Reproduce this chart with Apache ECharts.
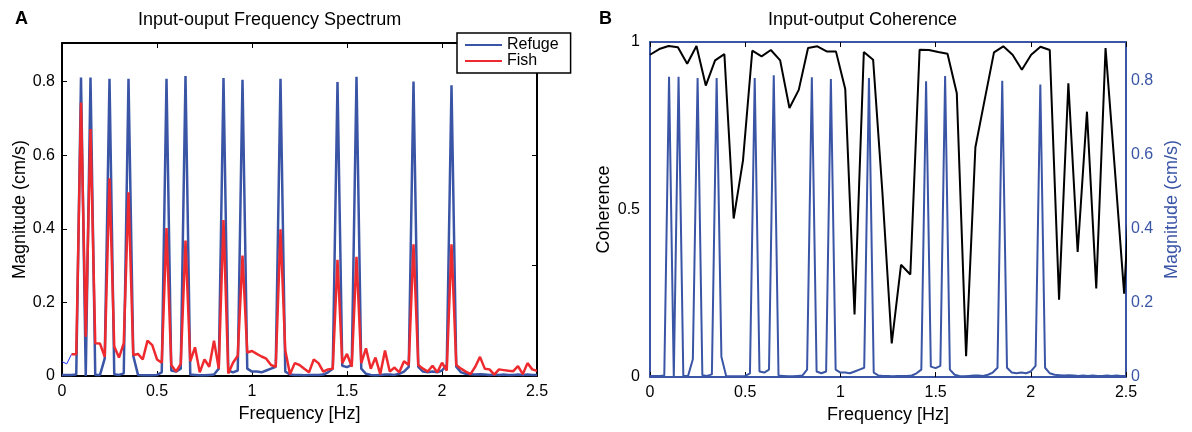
<!DOCTYPE html>
<html>
<head>
<meta charset="utf-8">
<script src="https://cdn.jsdelivr.net/npm/echarts@6/dist/echarts.min.js"></script>
<style>
  html, body { margin: 0; padding: 0; background: #fff; }
  #chart { width: 1192px; height: 432px; }
</style>
</head>
<body>
<div id="chart"></div>
<script>
// spectrum sampled every 0.025 Hz, coherence every 100/2048 Hz
const specStep = 0.025;
const cohStep = 100 / 2048;

const refuge = [
  0.003, 0.003, 0.003, 0.004, 0.811, 0.0, 0.811, 0.003, 0.003, 0.048,
  0.808, 0.005, 0.003, 0.007, 0.808, 0.055, 0.003, 0.002, 0.002, 0.002,
  0.003, 0.01, 0.808, 0.015, 0.012, 0.02, 0.815, 0.004, 0.003, 0.002,
  0.002, 0.003, 0.004, 0.02, 0.81, 0.015, 0.01, 0.015, 0.805, 0.02,
  0.012, 0.012, 0.01, 0.015, 0.02, 0.025, 0.808, 0.012, 0.004, 0.003,
  0.003, 0.002, 0.003, 0.003, 0.003, 0.004, 0.01, 0.02, 0.799, 0.028,
  0.024, 0.03, 0.813, 0.02, 0.006, 0.003, 0.002, 0.003, 0.004, 0.004,
  0.003, 0.006, 0.012, 0.025, 0.80, 0.025, 0.012, 0.01, 0.012, 0.01,
  0.015, 0.03, 0.79, 0.025, 0.01, 0.006, 0.005, 0.004, 0.005, 0.004,
  0.003, 0.004, 0.003, 0.004, 0.003, 0.003, 0.004, 0.003, 0.004, 0.003,
  0.003
];

const fish = [
  null, null, 0.059, 0.059, 0.743, 0.107, 0.671, 0.089, 0.088, 0.052,
  0.537, 0.08, 0.05, 0.089, 0.499, 0.057, 0.06, 0.045, 0.096, 0.084,
  0.045, 0.036, 0.402, 0.03, 0.012, 0.033, 0.368, 0.04, 0.078, 0.01,
  0.045, 0.025, 0.096, 0.02, 0.424, 0.007, 0.036, 0.055, 0.327, 0.064,
  0.068, 0.06, 0.053, 0.047, 0.03, 0.025, 0.399, 0.07, 0.005, 0.035,
  0.03, 0.02, 0.01, 0.045, 0.035, 0.012, 0.018, 0.02, 0.316, 0.035,
  0.06, 0.025, 0.324, 0.035, 0.075, 0.02, 0.05, 0.005, 0.069, 0.012,
  0.023, 0.01, 0.04, 0.03, 0.358, 0.03, 0.02, 0.012, 0.028, 0.01,
  0.036, 0.015, 0.358, 0.03, 0.02, 0.012, 0.005, 0.025, 0.052, 0.02,
  0.018, 0.004, 0.018, 0.016, 0.014, 0.013, 0.027, 0.005, 0.035, 0.018,
  0.014
];

// short thin trace at the very start of panel A
const startTrace = [0.039, 0.033, 0.059];

const coherence = [
  0.962, 0.979, 0.988, 0.984, 0.935, 0.988, 0.870, 0.945, 0.964, 0.473,
  0.646, 0.974, 0.957, 0.976, 0.945, 0.803, 0.857, 0.982, 0.987, 0.972,
  0.972, 0.860, 0.187, 0.970, 0.947, 0.55, 0.100, 0.335, 0.306, 0.977,
  0.976, 0.970, 0.965, 0.847, 0.062, 0.686, 0.828, 0.969, 0.987, 0.962,
  0.917, 0.962, 0.986, 0.976, 0.231, 0.877, 0.373, 0.792, 0.264, 0.982,
  0.62, 0.249, 0.76
];

const pairs = (vals, step) => vals.map((v, i) => [i * step, v]);

const blue = '#3a55a6';
const red = '#ee2a2e';
const font = "'Liberation Sans', Arial, Helvetica, sans-serif";

const tickFmt = v => (v === 0 ? '0' : String(+v.toFixed(2)));

function xAxisOpt(gridIndex, position, lineColor, tickColor, showLabel, name) {
  return {
    type: 'value', gridIndex, position, min: 0, max: 2.5, interval: 0.5,
    name: name || '', nameLocation: 'middle', nameGap: 27,
    nameTextStyle: { fontFamily: font, fontSize: 18, color: '#000' },
    axisLine: { show: true, onZero: false, lineStyle: { color: lineColor, width: 2 } },
    axisTick: { show: true, inside: true, length: 5, lineStyle: { color: tickColor, width: 1 } },
    axisLabel: { show: showLabel, margin: 8, fontFamily: font, fontSize: 16, color: '#000', formatter: tickFmt },
    splitLine: { show: false }
  };
}

const chart = echarts.init(document.getElementById('chart'));

const option = {
  animation: false,
  backgroundColor: '#fff',
  title: [
    { text: 'A', left: 10, top: 5, textStyle: { fontFamily: font, fontSize: 18, fontWeight: 'bold', color: '#000' } },
    { text: 'Input-ouput Frequency Spectrum', left: 133, top: 6, textStyle: { fontFamily: font, fontSize: 18, fontWeight: 'normal', color: '#000' } },
    { text: 'B', left: 594, top: 5, textStyle: { fontFamily: font, fontSize: 18, fontWeight: 'bold', color: '#000' } },
    { text: 'Input-output Coherence', left: 763, top: 6, textStyle: { fontFamily: font, fontSize: 18, fontWeight: 'normal', color: '#000' } }
  ],
  legend: {
    data: ['Refuge', 'Fish'],
    orient: 'vertical',
    left: 457, top: 33,
    padding: [4, 12, 4, 8],
    itemGap: 0,
    itemWidth: 37, itemHeight: 2,
    icon: 'rect',
    backgroundColor: '#fff',
    borderColor: '#000', borderWidth: 1.5, borderRadius: 0,
    textStyle: { fontFamily: font, fontSize: 16, color: '#000', lineHeight: 16 }
  },
  grid: [
    { left: 62, top: 43, width: 475, height: 333, containLabel: false },
    { left: 650, top: 42, width: 476, height: 335, containLabel: false }
  ],
  xAxis: [
    xAxisOpt(0, 'bottom', '#000', '#000', true, 'Frequency [Hz]'),
    xAxisOpt(0, 'top', '#000', '#000', false),
    xAxisOpt(1, 'bottom', blue, '#000', true, 'Frequency [Hz]'),
    xAxisOpt(1, 'top', blue, '#000', false)
  ],
  yAxis: [
    {
      type: 'value', gridIndex: 0, position: 'left', min: 0, max: 0.905, interval: 0.2,
      name: 'Magnitude (cm/s)', nameLocation: 'middle', nameGap: 32,
      nameTextStyle: { fontFamily: font, fontSize: 18, color: '#000' },
      axisLine: { show: true, onZero: false, lineStyle: { color: '#000', width: 2 } },
      axisTick: { show: true, inside: true, length: 5, lineStyle: { color: '#000' } },
      axisLabel: { margin: 7, showMaxLabel: false, fontFamily: font, fontSize: 16, color: '#000', formatter: tickFmt },
      splitLine: { show: false }
    },
    {
      type: 'value', gridIndex: 0, position: 'right', min: 0, max: 0.905, interval: 0.3,
      axisLine: { show: true, onZero: false, lineStyle: { color: '#000', width: 2 } },
      axisTick: { show: true, inside: true, length: 5, lineStyle: { color: '#000' } },
      axisLabel: { show: false },
      splitLine: { show: false }
    },
    {
      type: 'value', gridIndex: 1, position: 'left', min: 0, max: 1, interval: 0.5,
      name: 'Coherence', nameLocation: 'middle', nameGap: 37,
      nameTextStyle: { fontFamily: font, fontSize: 18, color: '#000' },
      axisLine: { show: true, onZero: false, lineStyle: { color: blue, width: 2 } },
      axisTick: { show: false },
      axisLabel: { margin: 10, fontFamily: font, fontSize: 16, color: '#000', formatter: tickFmt },
      splitLine: { show: false }
    },
    {
      type: 'value', gridIndex: 1, position: 'right', min: 0, max: 0.905, interval: 0.2,
      name: 'Magnitude (cm/s)', nameLocation: 'middle', nameGap: 37,
      nameTextStyle: { fontFamily: font, fontSize: 18, color: blue },
      axisLine: { show: true, onZero: false, lineStyle: { color: blue, width: 2 } },
      axisTick: { show: false },
      axisLabel: { margin: 5, showMaxLabel: false, fontFamily: font, fontSize: 16, color: blue, formatter: tickFmt },
      splitLine: { show: false }
    }
  ],
  series: [
    {
      name: 'Refuge', type: 'line', xAxisIndex: 0, yAxisIndex: 0,
      data: pairs(refuge, specStep), showSymbol: false,
      lineStyle: { color: blue, width: 2.5 }, itemStyle: { color: blue }
    },
    {
      name: 'start', type: 'line', xAxisIndex: 0, yAxisIndex: 0,
      data: pairs(startTrace, specStep), showSymbol: false,
      lineStyle: { color: '#1a2cff', width: 1 }, itemStyle: { color: '#1a2cff' }
    },
    {
      name: 'Fish', type: 'line', xAxisIndex: 0, yAxisIndex: 0,
      data: pairs(fish, specStep), showSymbol: false, connectNulls: false,
      lineStyle: { color: red, width: 2.5 }, itemStyle: { color: red }
    },
    {
      name: 'Refuge B', type: 'line', xAxisIndex: 2, yAxisIndex: 3,
      data: pairs(refuge, specStep), showSymbol: false,
      lineStyle: { color: blue, width: 2 }, itemStyle: { color: blue }
    },
    {
      name: 'Coherence', type: 'line', xAxisIndex: 2, yAxisIndex: 2,
      data: pairs(coherence, cohStep), showSymbol: false, clip: true,
      lineStyle: { color: '#000', width: 2 }, itemStyle: { color: '#000' }
    }
  ]
};

chart.setOption(option);
</script>
</body>
</html>
